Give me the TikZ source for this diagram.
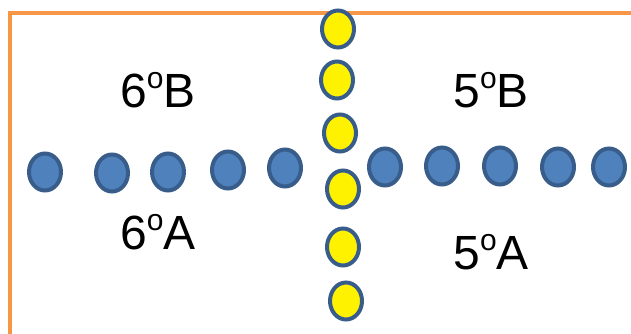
\documentclass[tikz,border=0pt]{standalone}
\usepackage{fontspec}
\setmainfont{Liberation Sans}
\usetikzlibrary{shapes.geometric}
\definecolor{framecol}{HTML}{F79646}
\definecolor{dotfill}{HTML}{4F81BD}
\definecolor{dotline}{HTML}{385D8A}
\newcommand{\ord}{\raisebox{19pt}{\fontsize{30}{32}\selectfont o}}
\begin{document}
\begin{tikzpicture}[x=1pt,y=-1pt,
  seat/.style={ellipse,draw=dotline,line width=4pt,minimum width=32pt,minimum height=37pt,inner sep=0pt},
  bluedot/.style={seat,fill=dotfill},
  yellowdot/.style={seat,fill=yellow},
  class/.style={font=\fontsize{48}{52}\selectfont,inner sep=0pt}]
  \useasboundingbox (0,0) rectangle (631,334);
  % room wall
  \coordinate (topright) at (631,13.5);
  \coordinate (corner) at (9.5,13.5);
  \coordinate (bottomleft) at (9.5,334);
  \draw[framecol,line width=4pt] (topright) -- (corner) -- (bottomleft);
  % left row
  \foreach \x/\y [count=\i] in {45/172,112/173,168/172,228/170,285/168}
    \node[bluedot] (left\i) at (\x,\y) {};
  % right row
  \foreach \x/\y [count=\i] in {385/167,442/166,500/166,558/167,609/167}
    \node[bluedot] (right\i) at (\x,\y) {};
  % middle column
  \foreach \x/\y [count=\i] in {338/29,337/80,340/133,343/189,343/247,346/301}
    \node[yellowdot] (mid\i) at (\x,\y) {};
  % classes
  \node[class] (sixB) at (158,90) {6\ord B};
  \node[class] (fiveB) at (491,90) {5\ord B};
  \node[class] (sixA) at (158,232) {6\ord A};
  \node[class] (fiveA) at (491,252) {5\ord A};
\end{tikzpicture}
\end{document}
